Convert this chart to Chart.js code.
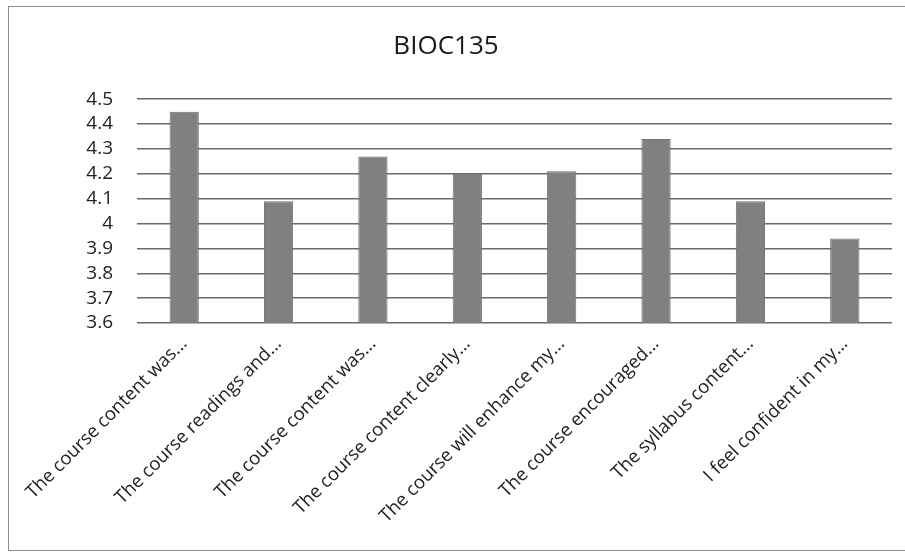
<!DOCTYPE html>
<html>
<head>
<meta charset="utf-8">
<script src="https://cdn.jsdelivr.net/npm/chart.js@4"></script>
<style>
  html, body { margin: 0; padding: 0; background: #fff; }
  #frame {
    position: absolute; left: 8px; top: 6px; width: 910px; height: 545px;
    border: 1.5px solid #8c8c8c; box-sizing: border-box;
  }
  #wrap { position: absolute; left: 0; top: 0; width: 905px; height: 554px; }
</style>
</head>
<body>
<div id="frame"></div>
<div id="wrap"><canvas id="barChart" width="905" height="554"></canvas></div>
<script>
const chartTitle = 'BIOC135'
const categories = [
    'The course content was...',
    'The course readings and...',
    'The course content was...',
    'The course content clearly...',
    'The course will enhance my...',
    'The course encouraged...',
    'The syllabus content...',
    'I feel confident in my...'
]
const scores = [4.45, 4.09, 4.27, 4.2, 4.21, 4.34, 4.09, 3.94]
const yTickLabels = ['3.6', '3.7', '3.8', '3.9', '4', '4.1', '4.2', '4.3', '4.4', '4.5']

const labelFont = { family: '"Open Sans", sans-serif', size: 18.5 }

var ctx = document.getElementById('barChart')
new Chart(ctx, {
    type: 'bar',
    data: {
        labels: categories,
        datasets: [{
            data: scores,
            backgroundColor: '#808080',
            borderColor: '#707070',
            borderWidth: 1,
            barPercentage: 0.31,
            categoryPercentage: 1
        }]
    },
    options: {
        responsive: false,
        animation: false,
        layout: { padding: { top: 0, right: 13, bottom: 0, left: 0 } },
        plugins: {
            legend: { display: false },
            tooltip: { enabled: false },
            title: {
                display: true,
                text: chartTitle,
                color: '#1a1a1a',
                font: { family: '"Open Sans", sans-serif', size: 26, weight: 'normal' },
                padding: { top: 31, bottom: 37 }
            }
        },
        scales: {
            x: {
                grid: { display: false },
                border: { display: false },
                ticks: {
                    color: '#222',
                    font: labelFont,
                    minRotation: 45,
                    maxRotation: 45,
                    autoSkip: false,
                    padding: 2
                },
                afterFit: (scale) => { scale.height = 231 }
            },
            y: {
                min: 3.6,
                max: 4.5,
                border: { display: false },
                grid: { color: '#6a6a6a', lineWidth: 1.5, drawTicks: false },
                ticks: {
                    stepSize: 0.1,
                    autoSkip: false,
                    color: '#222',
                    font: { family: '"Open Sans", sans-serif', size: 19 },
                    padding: 24,
                    callback: (v) => yTickLabels[Math.round((v - 3.6) * 10)]
                },
                afterFit: (scale) => { scale.width = 137 }
            }
        }
    }
})
</script>
</body>
</html>
